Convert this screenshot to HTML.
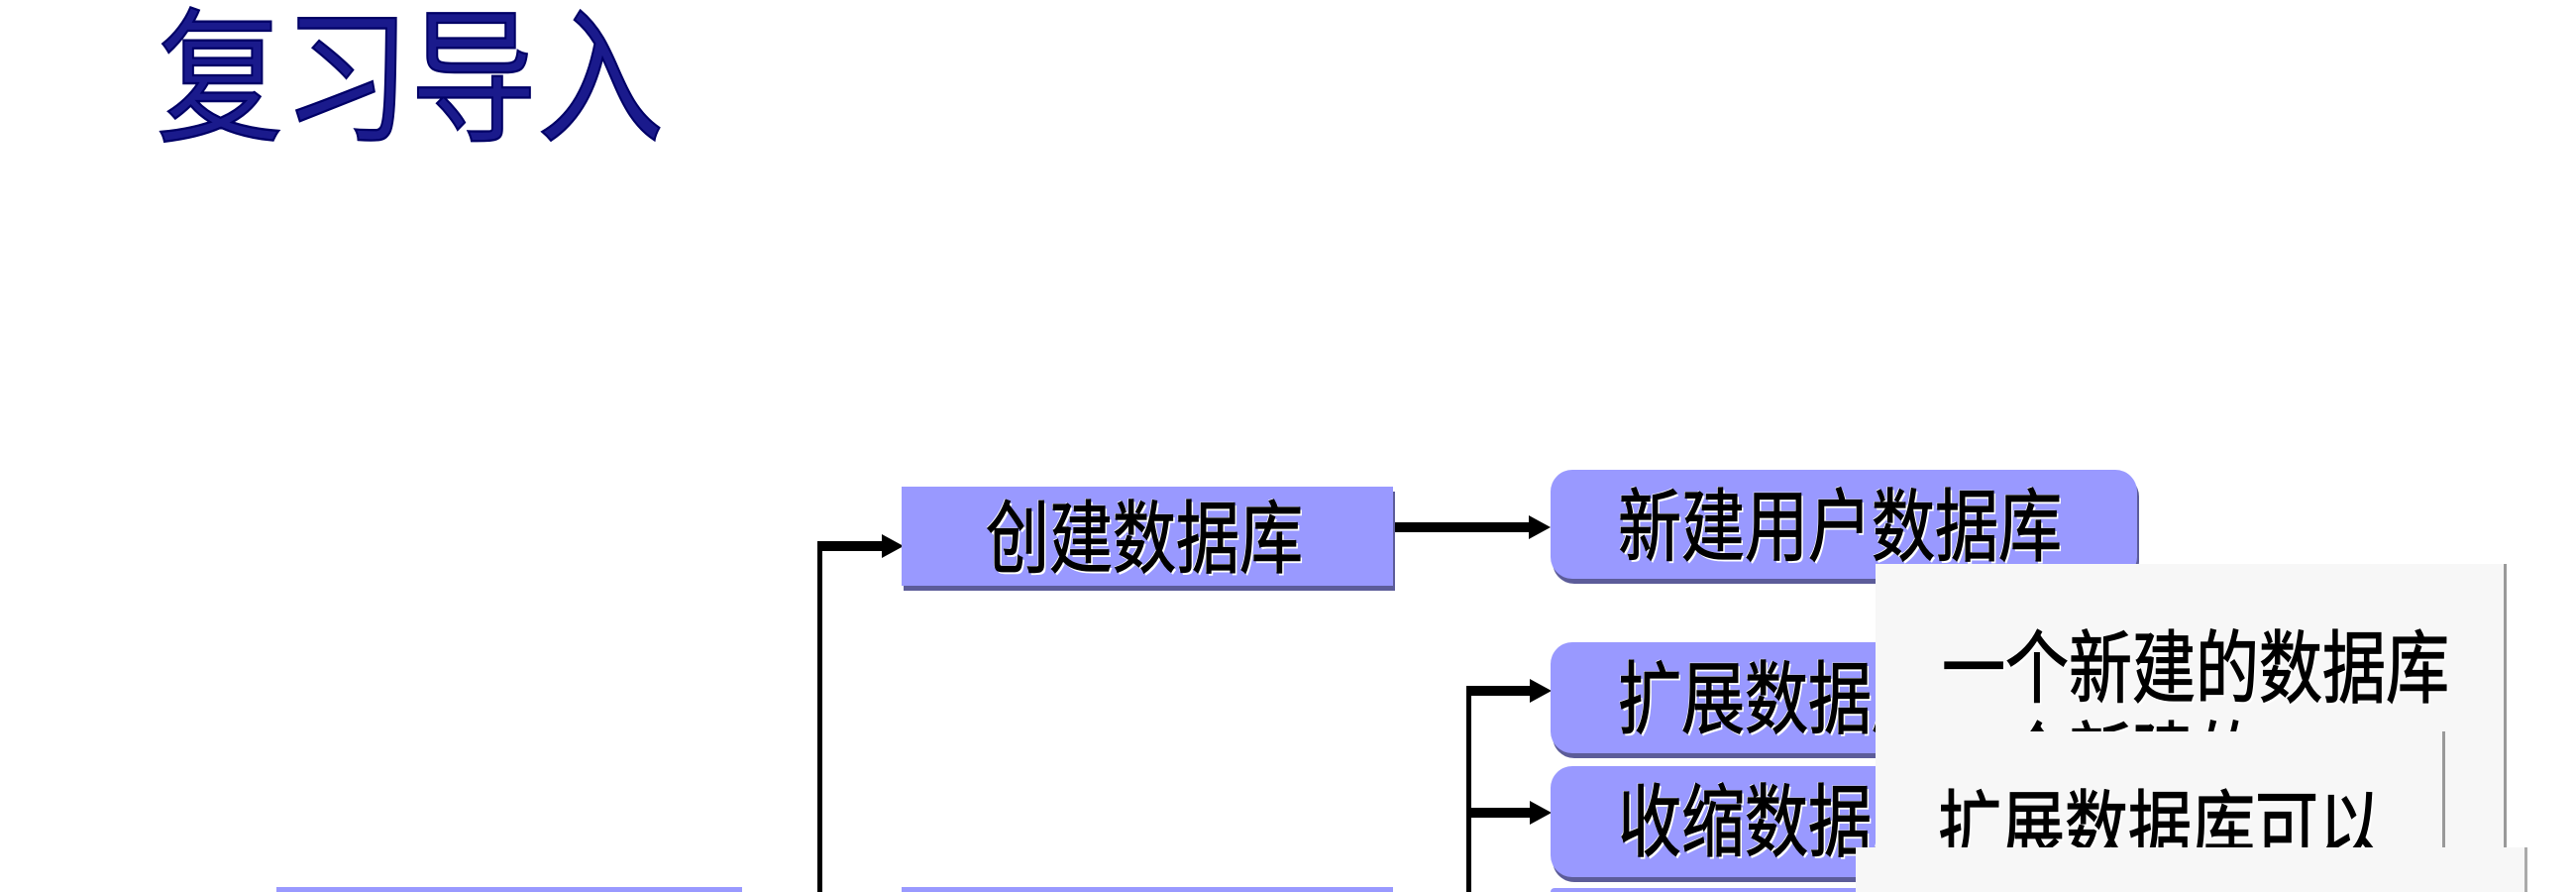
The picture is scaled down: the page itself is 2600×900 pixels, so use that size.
<!DOCTYPE html>
<html><head><meta charset="utf-8"><style>
html,body{margin:0;padding:0;background:#fff;width:2600px;height:900px;overflow:hidden;}
#w{width:2600px;height:900px;position:relative;overflow:hidden;font-family:"Liberation Sans","Noto Sans CJK SC","WenQuanYi Zen Hei",sans-serif;}
.a{position:absolute;}
.box{position:absolute;background:#9999ff;box-shadow:2px 5px 0 #5c5c99;}
.r{border-radius:22px;}
.t{position:absolute;white-space:nowrap;font-size:64px;line-height:1;color:#000;text-shadow:2px 2px 0 #fff,-1px -1px 0 #fff;-webkit-text-stroke:1px #000;transform:scaleY(1.25);transform-origin:0 0;}
.ln{position:absolute;background:#000;}
.ah{position:absolute;width:0;height:0;border-top:12px solid transparent;border-bottom:12px solid transparent;border-left:22px solid #000;}
.pop{position:absolute;background:#f7f7f7;overflow:hidden;}
</style></head><body><div id="w">
<div class="t" style="left:158px;top:8px;font-size:128px;color:#1a1a8c;-webkit-text-stroke:2px #000066;text-shadow:4px 4px 0 #fff;transform:scaleY(1.15);">复习导入</div>

<div class="ln" style="left:825px;top:546px;width:5px;height:354px;"></div>
<div class="ln" style="left:825px;top:546px;width:68px;height:10px;"></div>
<div class="ah" style="left:890px;top:539px;"></div>
<div class="ln" style="left:1403px;top:527px;width:142px;height:10px;"></div>
<div class="ah" style="left:1543px;top:520px;"></div>
<div class="ln" style="left:1480px;top:692px;width:5px;height:208px;"></div>
<div class="ln" style="left:1480px;top:692px;width:66px;height:10px;"></div>
<div class="ah" style="left:1544px;top:685px;"></div>
<div class="ln" style="left:1480px;top:815px;width:66px;height:10px;"></div>
<div class="ah" style="left:1544px;top:808px;"></div>

<div class="box" style="left:910px;top:491px;width:496px;height:100px;"></div>
<div class="t" style="left:995px;top:504px;">创建数据库</div>
<div class="box r" style="left:1565px;top:474px;width:592px;height:110px;"></div>
<div class="t" style="left:1633px;top:492px;">新建用户数据库</div>
<div class="box r" style="left:1565px;top:648px;width:592px;height:112px;"></div>
<div class="t" style="left:1633px;top:666px;">扩展数据库</div>
<div class="box r" style="left:1565px;top:773px;width:592px;height:112px;"></div>
<div class="t" style="left:1633px;top:790px;">收缩数据库</div>
<div class="a" style="left:1565px;top:896px;width:592px;height:4px;background:#9999ff;border-radius:8px 8px 0 0;"></div>
<div class="a" style="left:279px;top:895px;width:470px;height:5px;background:#9999ff;"></div>
<div class="a" style="left:910px;top:895px;width:496px;height:5px;background:#9999ff;"></div>

<div class="pop" style="left:1893px;top:569px;width:634px;height:170px;border-right:3px solid #999;">
  <div class="t" style="left:67px;top:66px;">一个新建的数据库</div>
  <div class="t" style="left:67px;top:158px;">一个新建的</div>
</div>
<div class="pop" style="left:1893px;top:738px;width:634px;height:117px;border-right:3px solid #999;">
  <div class="a" style="left:572px;top:0;width:3px;height:117px;background:#999;"></div>
  <div class="t" style="left:63px;top:58px;">扩展数据库可以</div>
</div>
<div class="pop" style="left:1873px;top:855px;width:675px;height:45px;border-right:3px solid #aaa;"></div>
</div></body></html>
